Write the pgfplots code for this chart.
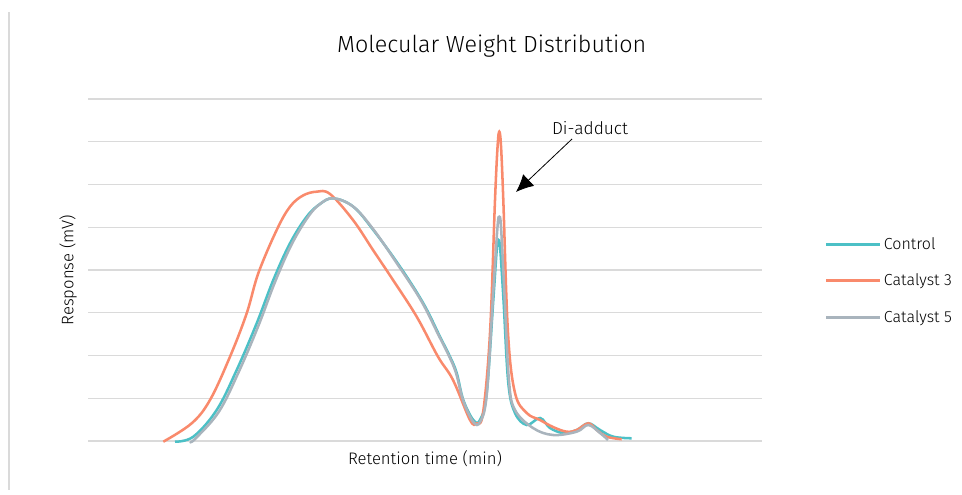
\documentclass[border=0pt]{standalone}
\usepackage{fontspec}
\setmainfont{Fira Sans Light}
\usepackage{pgfplots}
\pgfplotsset{compat=1.18}
\usetikzlibrary{arrows.meta}
\definecolor{cteal}{HTML}{4CC0C6}
\definecolor{corange}{HTML}{F98A6C}
\definecolor{cgray}{HTML}{A9B4BD}
\definecolor{cgrid}{HTML}{DADADA}
\begin{document}
\begin{tikzpicture}[x=0.75pt,y=0.75pt]
\path[use as bounding box] (0,0) rectangle (962,495);
\draw[cgrid,line width=1pt] (9,5) -- (9,483);
\begin{axis}[
  at={(88*0.75pt,54*0.75pt)}, anchor=south west,
  scale only axis, width=505.5pt, height=256.5pt,
  xmin=88, xmax=762, ymin=0, ymax=342,
  axis line style={draw=none},
  xtick=\empty, ytick={0,42.75,...,343},
  yticklabels={}, major tick length=0pt,
  ymajorgrids, grid style={cgrid,line width=1.1pt},
  clip=false,
  title={Molecular Weight Distribution},
  title style={font=\fontsize{17.5}{20}\selectfont, yshift=22pt, xshift=50pt},
  xlabel={Retention time (min)}, ylabel={Response (mV)},
  label style={font=\fontsize{12.5}{14}\selectfont},
  xlabel style={yshift=-4pt}, ylabel style={yshift=-2pt},
  legend style={at={(1.087,0.468)}, anchor=west, draw=none, fill=none,
    font=\fontsize{12}{14}\selectfont, row sep=13pt},
  legend cell align=left,
  legend image code/.code={\draw[#1,line width=2.3pt] (0pt,0pt) -- (40pt,0pt);},
  every axis plot/.append style={line width=1.9pt, smooth, tension=0.6},
]
\addplot[cteal] coordinates {
(175,-0.7) (193.3,4.3) (216.7,31) (236.7,71) (256.7,117.7) (273.3,161) (290,197.7)
(306.7,224.3) (320,237) (333.3,242.7) (353.3,234.3) (373.3,211) (400,174.3) (423.3,137.7)
(440,104.3) (450,84.3) (456.7,68) (463.3,41) (473.3,21) (480,21) (486.7,48)
(493.3,141) (496.8,192) (498.5,201) (500.2,192) (503.5,141) (508.3,58) (515,28) (526.7,16) (540,23)
(550,13) (563.3,8) (576.7,11) (588.3,17.7) (600,11) (613.3,4.3) (631.7,2.7)};
\addlegendentry{Control}
\addplot[corange] coordinates {
(163.3,-0.7) (191.7,17.7) (210,41) (230,84.3) (246.7,127.7) (258.3,167.7)
(276.7,211) (290,234.3) (303,245.5) (316.7,249.3) (330,247) (353,221) (373,191) (393,161)
(416.7,124.3) (438,84.3) (453,61) (470,21) (476.7,17.7) (483,28) (490,108)
(495,241) (497.6,295) (499.3,309.3) (501,295) (503.3,241) (508,108) (515,48) (526.7,28) (540,21)
(553,14) (566.7,9.3) (576.7,11) (588.3,17.7) (596.7,11) (606.7,4.3) (621.7,1.7)};
\addlegendentry{Catalyst 3}
\addplot[cgray] coordinates {
(190,-0.7) (195,2) (218.7,29) (238.7,69) (258.7,116) (275,159) (291.7,196.7)
(308,224) (320,237) (333.3,242.7) (353.3,234.3) (373.3,211.7) (398,176) (421.3,140)
(438,107) (449,85) (456,68) (463.3,40) (473.3,19) (480,19) (486.7,46)
(493.3,150) (497.5,214) (499.3,224.3) (501,214) (504.3,150) (509,60) (515,31) (533,13) (553,6)
(576.7,9.3) (588.3,16) (600,8) (608,1)};
\addlegendentry{Catalyst 5}
\draw[-{Latex[length=13pt,width=12pt]}, line width=0.6pt]
  (axis cs:572,302) -- (axis cs:516,249);
\node[font=\fontsize{13}{15}\selectfont] at (axis cs:590,313) {Di-adduct};
\end{axis}
\end{tikzpicture}
\end{document}
